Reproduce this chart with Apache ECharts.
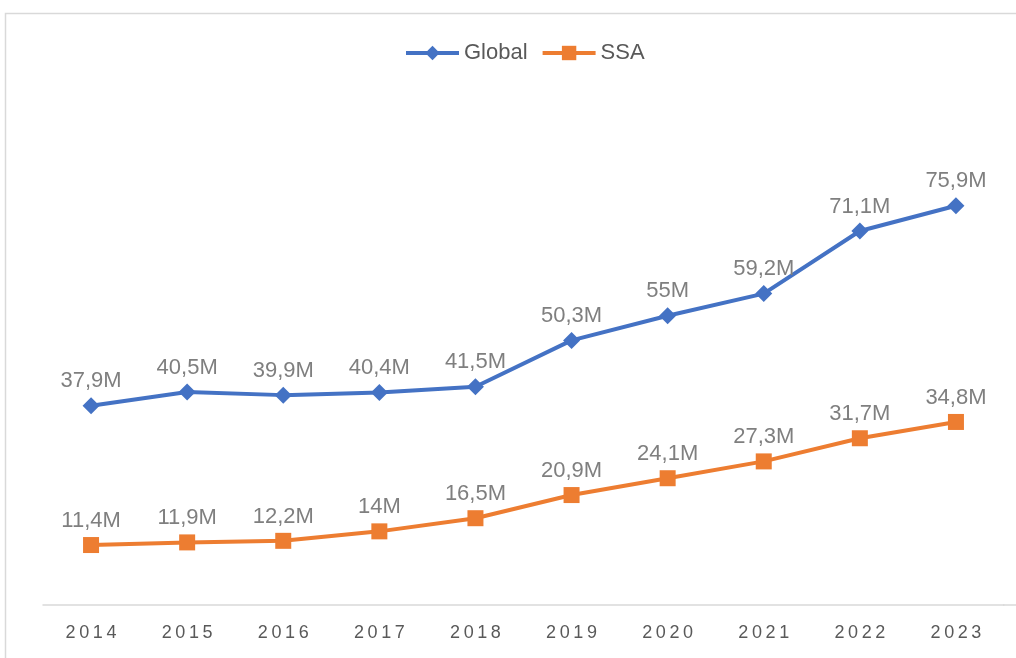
<!DOCTYPE html>
<html>
<head>
<meta charset="utf-8">
<script src="https://cdn.jsdelivr.net/npm/echarts@6/dist/echarts.min.js"></script>
<style>
  html, body { margin: 0; padding: 0; background: #fff; }
  #chart { width: 1016px; height: 658px; }
</style>
</head>
<body>
<div id="chart"></div>
<script>
const years = ['2014', '2015', '2016', '2017', '2018', '2019', '2020', '2021', '2022', '2023']
const globalValues = [37.9, 40.5, 39.9, 40.4, 41.5, 50.3, 55, 59.2, 71.1, 75.9]
const ssaValues = [11.4, 11.9, 12.2, 14, 16.5, 20.9, 24.1, 27.3, 31.7, 34.8]

const labelFont = 'Liberation Sans'

// Excel style: 37.9 -> "37,9M"
function fmt(p) {
  return String(p.value).replace('.', ',') + 'M'
}

const chart = echarts.init(document.getElementById('chart'))

chart.setOption({
  animation: false,
  graphic: [{
    // outer chart border (cropped on the right and bottom)
    type: 'rect',
    shape: { x: 5.5, y: 13.5, width: 1100, height: 700 },
    style: { fill: 'none', stroke: '#d9d9d9', lineWidth: 1.5 }
  }, {
    // axis line runs on to the edge
    type: 'line',
    shape: { x1: 1003, y1: 605, x2: 1016, y2: 605 },
    style: { stroke: '#d9d9d9', lineWidth: 1.5 }
  }],
  legend: {
    top: 37,
    left: 399,
    itemWidth: 53,
    itemHeight: 18,
    itemGap: 13,
    lineStyle: { width: 4 },
    textStyle: { fontFamily: labelFont, fontSize: 22, color: '#595959' },
    data: ['Global', 'SSA']
  },
  grid: {
    left: 43,
    right: 12,
    top: 79,
    bottom: 53,
    containLabel: false
  },
  xAxis: {
    type: 'category',
    data: years,
    boundaryGap: true,
    axisLine: { lineStyle: { color: '#d9d9d9', width: 1.5 } },
    axisTick: { show: false },
    axisLabel: {
      margin: 19,
      fontFamily: labelFont,
      fontSize: 18,
      color: '#595959',
      formatter: v => v.split('').join('\u2009')
    }
  },
  yAxis: {
    type: 'value',
    min: 0,
    max: 100,
    show: false,
    splitLine: { show: false }
  },
  series: [{
    name: 'Global',
    type: 'line',
    data: globalValues,
    symbol: 'diamond',
    symbolSize: 17,
    lineStyle: { color: '#4472c4', width: 4 },
    itemStyle: { color: '#4472c4' },
    label: {
      show: true,
      position: 'top',
      distance: 5,
      fontFamily: labelFont,
      fontSize: 22,
      color: '#7f7f7f',
      formatter: fmt
    }
  }, {
    name: 'SSA',
    type: 'line',
    data: ssaValues,
    symbol: 'rect',
    symbolSize: 16,
    lineStyle: { color: '#ed7d31', width: 4 },
    itemStyle: { color: '#ed7d31' },
    label: {
      show: true,
      position: 'top',
      distance: 5,
      fontFamily: labelFont,
      fontSize: 22,
      color: '#7f7f7f',
      formatter: fmt
    }
  }]
})
</script>
</body>
</html>
